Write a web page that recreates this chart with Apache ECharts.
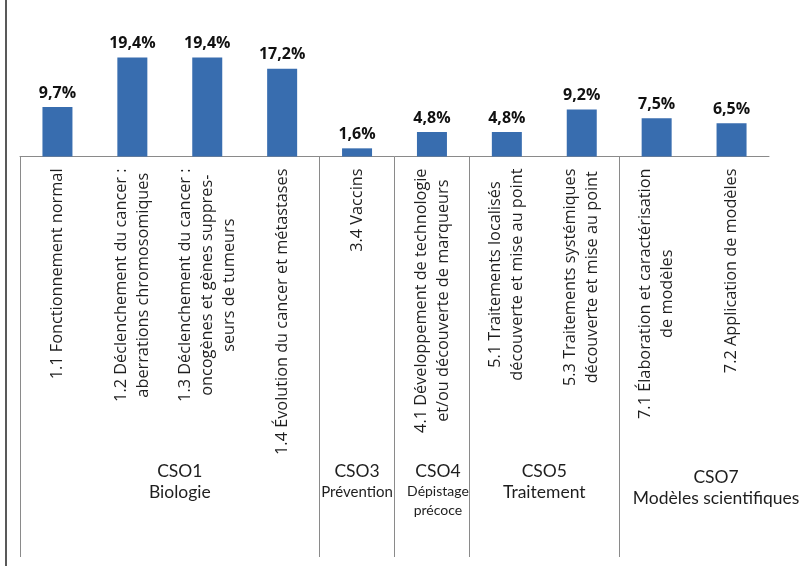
<!DOCTYPE html>
<html>
<head>
<meta charset="utf-8">
<script src="https://cdn.jsdelivr.net/npm/echarts@6/dist/echarts.min.js"></script>
<style>
html,body{margin:0;padding:0;background:#fff;}
#main{width:809px;height:566px;}
</style>
</head>
<body>
<div id="main"></div>
<script>
var categories = [
  '1.1 Fonctionnement normal',
  '1.2 Déclenchement du cancer :\naberrations chromosomiques',
  '1.3 Déclenchement du cancer :\noncogènes et gènes suppres-\nseurs de tumeurs',
  '1.4 Évolution du cancer et métastases',
  '3.4 Vaccins',
  '4.1 Développement de technologie\net/ou découverte de marqueurs',
  '5.1 Traitements localisés\ndécouverte et mise au point',
  '5.3 Traitements systémiques\ndécouverte et mise au point',
  '7.1 Élaboration et caractérisation\nde modèles',
  '7.2 Application de modèles'
];
var values = [9.7, 19.4, 19.4, 17.2, 1.6, 4.8, 4.8, 9.2, 7.5, 6.5];
var groupCodes = ['CSO1', 'CSO3', 'CSO4', 'CSO5', 'CSO7'];
var groupNames = ['Biologie', 'Prévention', 'Dépistage\nprécoce', 'Traitement', 'Modèles scientifiques'];
var groupSizes = [4, 1, 1, 2, 2];

var boundaryIdx = [];
(function(){ var s = 0; groupSizes.forEach(function(n){ boundaryIdx.push(s); s += n; }); })();

var chart = echarts.init(document.getElementById('main'), null, {renderer: 'canvas'});
var labelFont = '"Open Sans", "Noto Sans", sans-serif';
var groupFont = 'Lato, "Open Sans", sans-serif';

chart.setOption({
  animation: false,
  backgroundColor: '#ffffff',
  grid: [
    {left: 20, right: 40, top: 29, bottom: 409.5, containLabel: false},
    {left: 20, right: 40, top: 156.5, bottom: 9, containLabel: false}
  ],
  xAxis: [
    {
      type: 'category', gridIndex: 0, data: categories,
      axisLine: {show: true, lineStyle: {color: '#8a8a8a', width: 1}},
      axisTick: {show: false},
      axisLabel: {
        interval: 0, rotate: 90, margin: 12,
        formatter: function (v) {
          return v.split('\n').map(function (l) { return '{c|' + l + '}'; }).join('\n');
        },
        rich: {c: {align: 'center', fontFamily: labelFont, fontSize: 16.3, lineHeight: 22, color: '#1e1e1e'}}
      }
    },
    {
      type: 'category', gridIndex: 1, data: categories,
      axisLine: {show: false}, axisTick: {show: false}, axisLabel: {show: false},
      splitLine: {
        show: true, showMaxLine: false,
        interval: function (i) { return boundaryIdx.indexOf(i) >= 0; },
        lineStyle: {color: '#8a8a8a', width: 1}
      }
    }
  ],
  yAxis: [
    {type: 'value', gridIndex: 0, min: 0, max: 25, show: false},
    {type: 'value', gridIndex: 1, show: false}
  ],
  series: [{
    type: 'bar', xAxisIndex: 0, yAxisIndex: 0,
    data: values, barWidth: 30,
    itemStyle: {color: '#386daf'},
    label: {
      show: true, position: 'top', distance: 6,
      fontFamily: '"Liberation Sans Narrow", "Open Sans", sans-serif',
      fontWeight: 'bold', fontSize: 16, color: '#111',
      formatter: function (p) { return p.value.toFixed(1).replace('.', ',') + '%'; }
    }
  }]
});

var groupTops = [461, 461, 461, 461, 467];
var groupDx = [10, 0, 6, 0, 22];
var subSize = [17.5, 15, 14, 17.5, 17.5];
var subLH = [21, 21, 19, 21, 20];
var els = [{
  type: 'line', shape: {x1: 6, y1: 0, x2: 6, y2: 566},
  style: {stroke: '#222', lineWidth: 1.5}, silent: true
}];
var start = 0;
groupSizes.forEach(function (n, g) {
  var a = chart.convertToPixel({xAxisIndex: 0}, start);
  var b = chart.convertToPixel({xAxisIndex: 0}, start + n - 1);
  var cx = (a + b) / 2 + groupDx[g];
  var txt = '{h|' + groupCodes[g] + '}\n' +
    groupNames[g].split('\n').map(function (l) { return '{s|' + l + '}'; }).join('\n');
  els.push({
    type: 'text', x: cx, y: groupTops[g], silent: true,
    style: {
      text: txt, align: 'center', verticalAlign: 'top',
      rich: {
        h: {fontFamily: groupFont, fontSize: 17.5, lineHeight: 21, fill: '#1e1e1e', align: 'center'},
        s: {fontFamily: groupFont, fontSize: subSize[g], lineHeight: subLH[g], fill: '#1e1e1e', align: 'center'}
      }
    }
  });
  start += n;
});
chart.setOption({graphic: {elements: els}});
</script>
</body>
</html>
